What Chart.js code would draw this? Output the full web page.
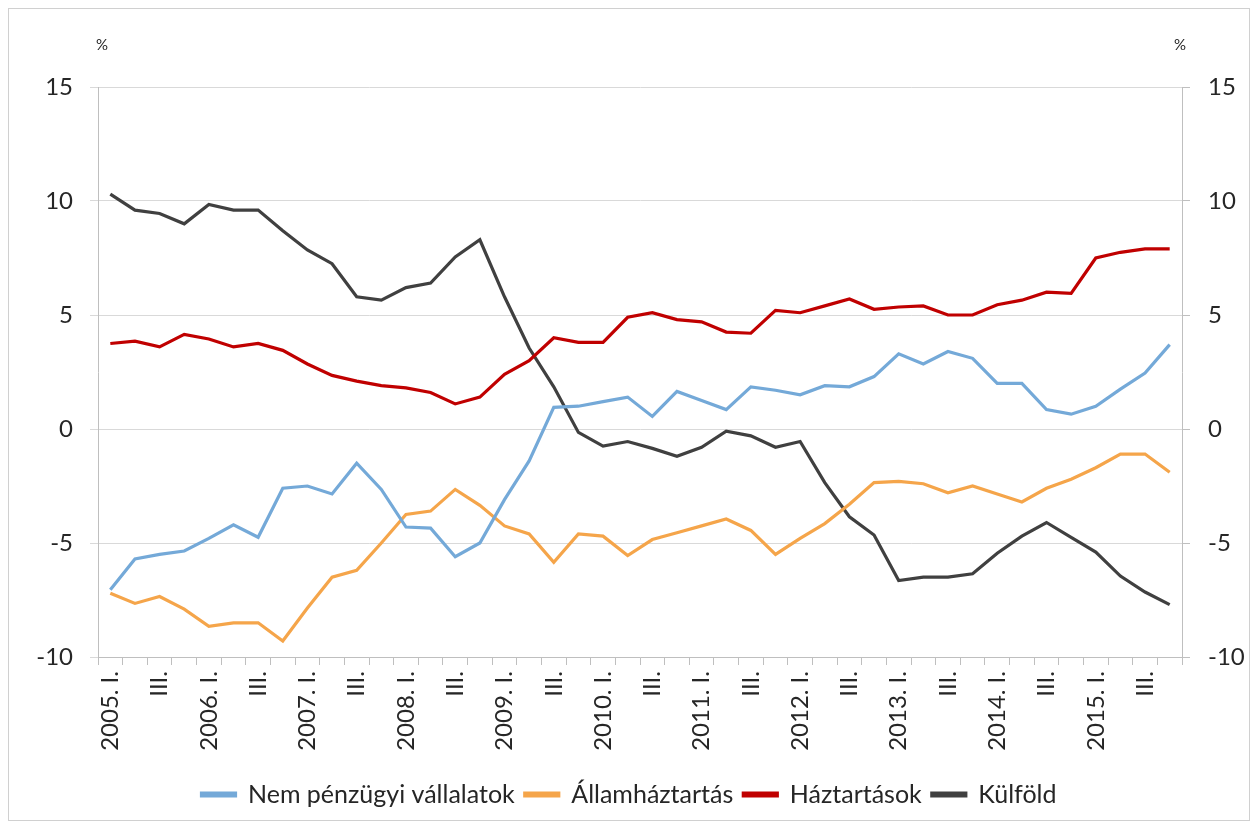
<!DOCTYPE html>
<html>
<head>
<meta charset="utf-8">
<script src="https://cdn.jsdelivr.net/npm/chart.js@4"></script>
<style>
  html, body { margin: 0; padding: 0; background: #fff; }
  #reportCanvas { position: absolute; left: 0; top: 0; }
  #frame { position: absolute; left: 8px; top: 8px; width: 1242px; height: 813px; border: 1px solid #d0d0d0; box-sizing: border-box; pointer-events: none; }
</style>
</head>
<body>
<canvas id="reportCanvas"></canvas>
<div id="frame"></div>
<script>
// quarters 2005 Q1 .. 2015 Q4
const years = [2005, 2006, 2007, 2008, 2009, 2010, 2011, 2012, 2013, 2014, 2015];
const quarterNames = ["I.", "II.", "III.", "IV."];

const vallalatok = [-7.05, -5.7, -5.5, -5.35, -4.8, -4.2, -4.75, -2.6, -2.5, -2.85, -1.5, -2.65,
  -4.3, -4.35, -5.6, -5.0, -3.1, -1.4, 0.95, 1.0, 1.2, 1.4, 0.55, 1.65,
  1.25, 0.85, 1.85, 1.7, 1.5, 1.9, 1.85, 2.3, 3.3, 2.85, 3.4, 3.1,
  2.0, 2.0, 0.85, 0.65, 1.0, 1.75, 2.45, 3.7];
const allamhaztartas = [-7.2, -7.65, -7.35, -7.9, -8.65, -8.5, -8.5, -9.3, -7.85, -6.5, -6.2, -5.0,
  -3.75, -3.6, -2.65, -3.35, -4.25, -4.6, -5.85, -4.6, -4.7, -5.55, -4.85, -4.55,
  -4.25, -3.95, -4.45, -5.5, -4.8, -4.15, -3.3, -2.35, -2.3, -2.4, -2.8, -2.5,
  -2.85, -3.2, -2.6, -2.2, -1.7, -1.1, -1.1, -1.9];
const haztartasok = [3.75, 3.85, 3.6, 4.15, 3.95, 3.6, 3.75, 3.45, 2.85, 2.35, 2.1, 1.9,
  1.8, 1.6, 1.1, 1.4, 2.4, 3.0, 4.0, 3.8, 3.8, 4.9, 5.1, 4.8,
  4.7, 4.25, 4.2, 5.2, 5.1, 5.4, 5.7, 5.25, 5.35, 5.4, 5.0, 5.0,
  5.45, 5.65, 6.0, 5.95, 7.5, 7.75, 7.9, 7.9];
const kulfold = [10.3, 9.6, 9.45, 9.0, 9.85, 9.6, 9.6, 8.7, 7.85, 7.25, 5.8, 5.65,
  6.2, 6.4, 7.55, 8.3, 5.8, 3.55, 1.85, -0.15, -0.75, -0.55, -0.85, -1.2,
  -0.8, -0.1, -0.3, -0.8, -0.55, -2.35, -3.85, -4.65, -6.65, -6.5, -6.5, -6.35,
  -5.45, -4.7, -4.1, -4.75, -5.4, -6.45, -7.15, -7.7];

const seriesNames = ["Nem pénzügyi vállalatok", "Államháztartás", "Háztartások", "Külföld"];
const colors = ["#74a9d8", "#f5a54a", "#c00000", "#404040"];

const labels = [];
years.forEach((y) => {
  quarterNames.forEach((q) => labels.push(y + ". " + q));
});

const fontFam = "Lato, 'Liberation Sans', sans-serif";

const percentLabels = {
  id: "percentLabels",
  afterDraw(chart) {
    const ctx = chart.ctx;
    const area = chart.chartArea;
    ctx.save();
    ctx.font = "15px " + fontFam;
    ctx.fillStyle = "#262626";
    ctx.textAlign = "center";
    ctx.textBaseline = "middle";
    ctx.fillText("%", area.left + 4, 45);
    ctx.fillText("%", area.right - 2, 45);
    ctx.restore();
  }
};

function drawGraph() {
  const canvas = document.getElementById("reportCanvas");
  const dataArrs = [vallalatok, allamhaztartas, haztartasok, kulfold];
  const dataSetsArr = dataArrs.map((arr, i) => {
    return {
      label: seriesNames[i],
      data: arr,
      borderColor: colors[i],
      backgroundColor: colors[i],
      borderWidth: 3.2,
      pointRadius: 0,
      tension: 0,
      yAxisID: "y",
    };
  });

  const config = {
    type: "line",
    data: { labels: labels, datasets: dataSetsArr },
    plugins: [percentLabels],
    options: {
      responsive: false,
      animation: false,
      layout: { padding: { left: 0, right: 0, top: 87, bottom: 11 } },
      scales: {
        x: {
          offset: true,
          afterFit: (scale) => { scale.height = 115; },
          grid: { offset: true, drawOnChartArea: false, drawTicks: true, tickLength: 8, color: "#bfbfbf" },
          border: { color: "#bfbfbf" },
          ticks: {
            autoSkip: false,
            maxRotation: 90,
            minRotation: 90,
            padding: 6,
            color: "#262626",
            font: { size: 24, family: fontFam },
            callback: function (val, idx) {
              const q = idx % 4;
              if (q === 0) return labels[idx];
              if (q === 2) return "III.";
              return "";
            },
          },
        },
        y: {
          position: "left",
          min: -10, max: 15,
          afterFit: (scale) => { scale.width = 98; },
          ticks: { stepSize: 5, color: "#262626", font: { size: 24, family: fontFam }, padding: 17 },
          grid: { color: "#d9d9d9", drawTicks: true, tickLength: 8 },
          border: { color: "#bfbfbf" },
        },
        y2: {
          position: "right",
          min: -10, max: 15,
          afterFit: (scale) => { scale.width = 76; },
          ticks: { stepSize: 5, color: "#262626", font: { size: 24, family: fontFam }, padding: 18 },
          grid: { drawOnChartArea: false, drawTicks: true, tickLength: 8, color: "#bfbfbf" },
          border: { color: "#bfbfbf" },
        },
      },
      plugins: {
        legend: {
          position: "bottom",
          labels: {
            boxWidth: 34,
            boxHeight: 3,
            color: "#262626",
            font: { size: 25, family: fontFam },
            padding: 10,
          },
        },
        tooltip: { enabled: false },
      },
    },
  };
  canvas.width = 1258;
  canvas.height = 828;
  new Chart(canvas, config);
}
drawGraph();
</script>
</body>
</html>
